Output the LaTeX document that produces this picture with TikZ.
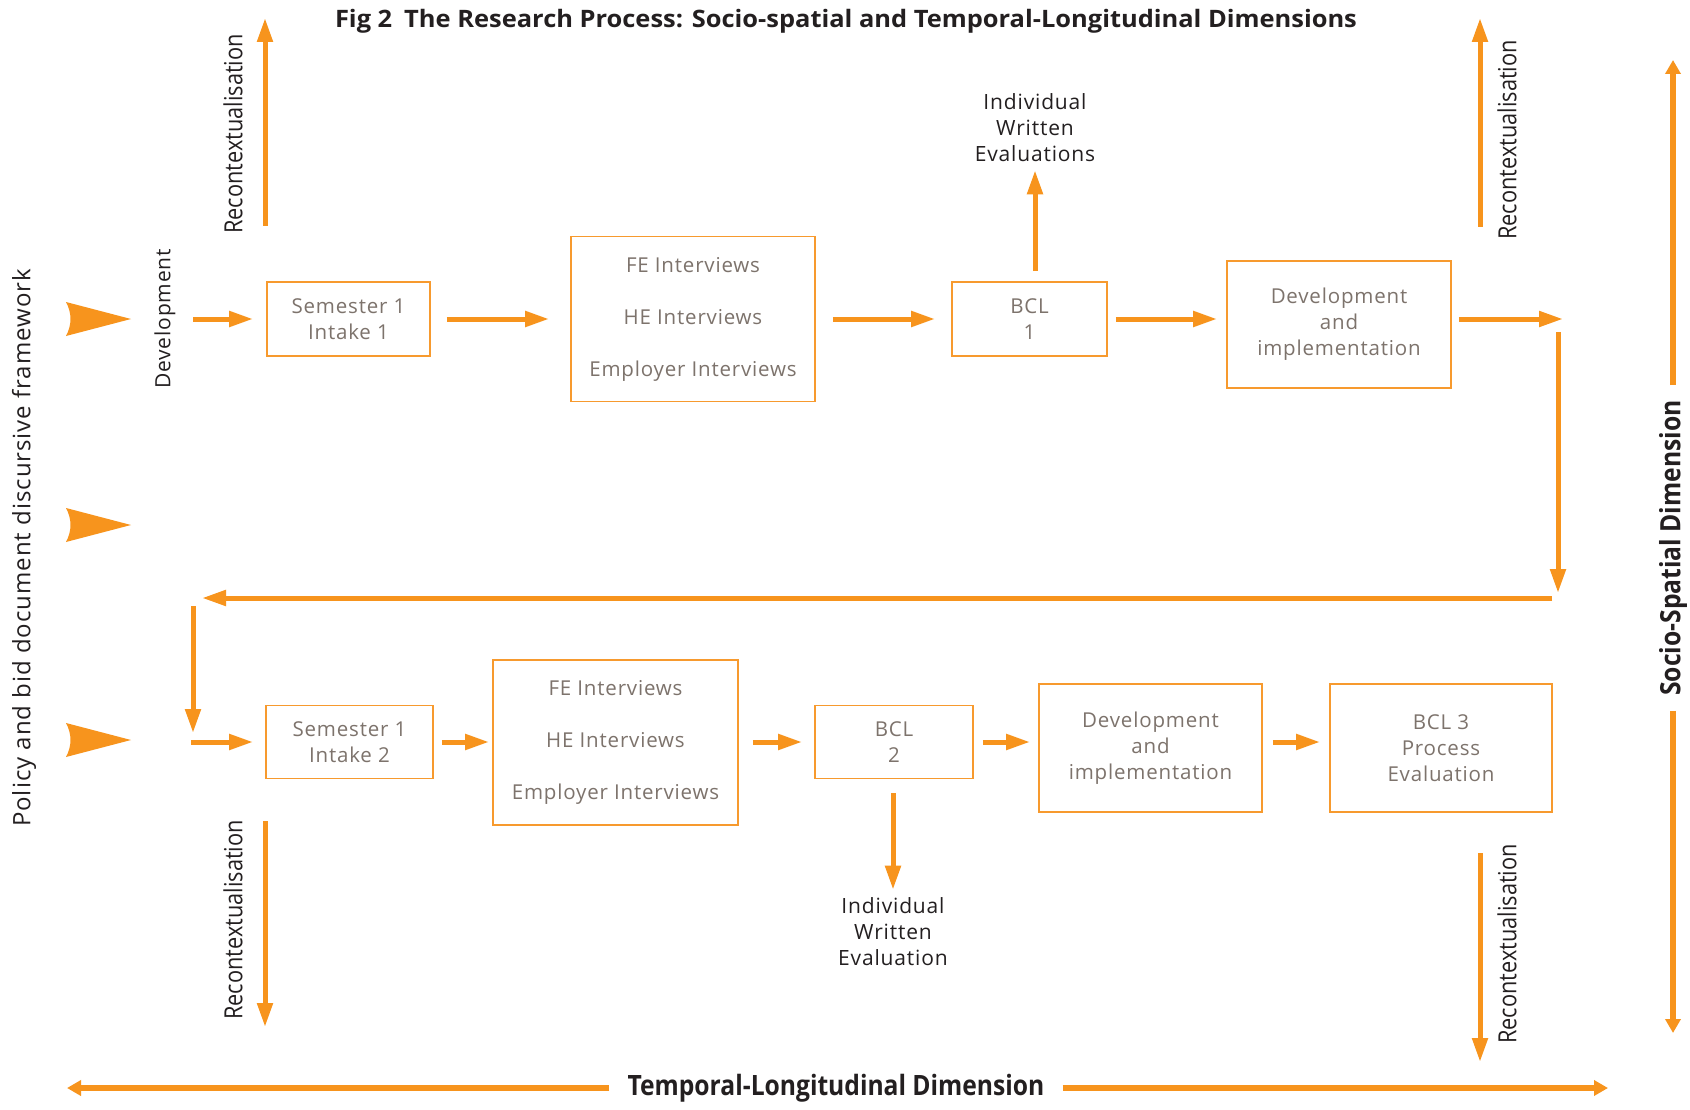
\documentclass[tikz,border=0pt]{standalone}
\usepackage{fontspec}
\setmainfont{Open Sans}
\newfontfamily\boxfont[LetterSpace=4]{Open Sans}
\newfontfamily\titlefont[FakeStretch=1.06]{Open Sans}
\newfontfamily\condfont[FakeStretch=0.87]{Open Sans}
\newfontfamily\bcondfont[FakeStretch=0.88]{Open Sans}
\usetikzlibrary{arrows.meta}
\definecolor{org}{HTML}{F7941D}
\definecolor{boxline}{HTML}{F79A2E}
\definecolor{boxtext}{HTML}{7D736C}
\definecolor{dark}{HTML}{231F20}
\tikzset{
  box/.style={draw=boxline, line width=1.8pt, fill=white, text=boxtext, align=center,
    font=\boxfont\fontsize{20.5}{26}\selectfont, inner sep=0pt},
  lbl/.style={text=dark, align=center, font=\boxfont\fontsize{21}{26}\selectfont, inner sep=2pt},
  recon/.style={text=dark, rotate=90, font=\condfont\fontsize{25}{28}\selectfont, inner sep=0pt},
  dimlbl/.style={text=dark, font=\bcondfont\bfseries\fontsize{28}{30}\selectfont, inner sep=0pt},
  conn/.style={draw=org, line width=5pt, -{Triangle[length=24pt,width=15pt]}},
  dimarrow/.style={draw=org, line width=5.5pt, -{Triangle[length=14pt,width=15pt]}},
  bighead/.style={fill=org, draw=none}
}
\begin{document}
\begin{tikzpicture}[x=1pt,y=-1pt]
\useasboundingbox (0,0) rectangle (1690,1110);
\fill[white] (0,0) rectangle (1690,1110);

% title
\node[text=dark, font=\titlefont\bfseries\fontsize{24}{28}\selectfont, inner sep=0pt] (title) at (846,21)
  {Fig 2\enspace The Research Process: Socio-spatial and Temporal-Longitudinal Dimensions};

% left vertical label
\node[text=dark, rotate=90, font=\boxfont\fontsize{24}{28}\selectfont, inner sep=0pt] (policy) at (24,548)
  {Policy and bid document discursive framework};

% big arrowheads
\foreach \yy in {319,525,740}{
  \fill[bighead] (131,\yy) -- (66,\yy-17) .. controls (72,\yy-6) and (72,\yy+6) .. (66,\yy+17) -- cycle;
}

% Development label
\node[text=dark, rotate=90, font=\boxfont\fontsize{21}{24}\selectfont, inner sep=0pt] (devl) at (165,319) {Development};

% row 1 boxes
\node[box, minimum width=163, minimum height=74] (s1) at (348.5,319) {Semester 1\\Intake 1};
\node[box, minimum width=244, minimum height=165] (fe1) at (693,319)
  {FE Interviews\\[26pt]HE Interviews\\[26pt]Employer Interviews};
\node[box, minimum width=155, minimum height=74] (bcl1) at (1029.5,319) {BCL\\1};
\node[box, minimum width=224, minimum height=127] (dev1) at (1339,324.5)
  {Development\\and\\implementation};

\node[lbl] (iwe1) at (1035,128) {Individual\\Written\\Evaluations};

% row 2 boxes
\node[box, minimum width=167, minimum height=73] (s2) at (349.5,742) {Semester 1\\Intake 2};
\node[box, minimum width=245, minimum height=165] (fe2) at (615.5,742.5)
  {FE Interviews\\[26pt]HE Interviews\\[26pt]Employer Interviews};
\node[box, minimum width=158, minimum height=73] (bcl2) at (894,742) {BCL\\2};
\node[box, minimum width=223, minimum height=128] (dev2) at (1150.5,748)
  {Development\\and\\implementation};
\node[box, minimum width=222, minimum height=128] (bcl3) at (1441,748)
  {BCL 3\\Process\\Evaluation};

\node[lbl] (iwe2) at (893,932) {Individual\\Written\\Evaluation};

% coordinates
\coordinate (d1) at (193,319);
\coordinate (r1) at (1563,319);
\coordinate (r2) at (1558,332);
\coordinate (r3) at (1558,593);
\coordinate (f1) at (1552,598);
\coordinate (f2) at (202,598);
\coordinate (f3) at (193,606);
\coordinate (f4) at (193,733);
\coordinate (d2) at (191,742);

% row 1 connectors
\draw[conn, shorten >=13pt] (d1) -- (s1.west);
\draw[conn, shorten <=16pt, shorten >=21pt] (s1.east) -- (fe1.west);
\draw[conn, shorten <=17pt, shorten >=16pt] (fe1.east) -- (bcl1.west);
\draw[conn, shorten <=8pt, shorten >=9pt] (bcl1.east) -- (bcl1.east -| dev1.west);
\draw[conn, shorten <=7pt] (dev1.east |- bcl1.east) -- (r1);
\draw[conn, shorten <=10pt, shorten >=6pt] (iwe1.south |- bcl1.north) -- (iwe1.south);

% feedback loop
\draw[conn] (r2) -- (r3);
\draw[conn] (f1) -- (f2);
\draw[conn] (f3) -- (f4);

% row 2 connectors
\draw[conn, shorten >=12pt] (d2) -- (s2.west);
\draw[conn, shorten <=8pt, shorten >=3pt] (s2.east) -- (fe2.west |- s2.east);
\draw[conn, shorten <=14pt, shorten >=12pt] (fe2.east |- bcl2.west) -- (bcl2.west);
\draw[conn, shorten <=9pt, shorten >=8pt] (bcl2.east) -- (bcl2.east -| dev2.west);
\draw[conn, shorten <=10pt, shorten >=9pt] (dev2.east |- bcl2.east) -- (bcl2.east -| bcl3.west);
\draw[conn, shorten <=14pt, shorten >=6pt] (iwe2.north |- bcl2.south) -- (iwe2.north);

% recontextualisation arrows
\coordinate (ra1) at (265,226); \coordinate (ra2) at (265,18);
\coordinate (rb1) at (1480,227); \coordinate (rb2) at (1480,18);
\coordinate (rc1) at (265,821); \coordinate (rc2) at (265,1027);
\coordinate (rd1) at (1480,853); \coordinate (rd2) at (1480,1062);
\draw[conn] (ra1) -- (ra2);
\draw[conn] (rb1) -- (rb2);
\draw[conn] (rc1) -- (rc2);
\draw[conn] (rd1) -- (rd2);
\node[recon] (rl1) at (233,134) {Recontextualisation};
\node[recon] (rl2) at (1507,140) {Recontextualisation};
\node[recon] (rl3) at (233,920) {Recontextualisation};
\node[recon] (rl4) at (1507,944) {Recontextualisation};

% socio-spatial dimension
\node[dimlbl, rotate=90, inner xsep=15pt] (socio) at (1673,548) {Socio-Spatial Dimension};
\coordinate (st) at (1673,60);
\coordinate (sb) at (1673,1033);
\draw[dimarrow] (socio.east) -- (st);
\draw[dimarrow] (socio.west) -- (sb);

% temporal-longitudinal dimension
\node[dimlbl, inner xsep=18pt] (temporal) at (836,1088) {Temporal-Longitudinal Dimension};
\coordinate (tl) at (67,1088);
\coordinate (tr) at (1608,1088);
\draw[dimarrow] (temporal.west) -- (tl);
\draw[dimarrow] (temporal.east) -- (tr);
\end{tikzpicture}
\end{document}
